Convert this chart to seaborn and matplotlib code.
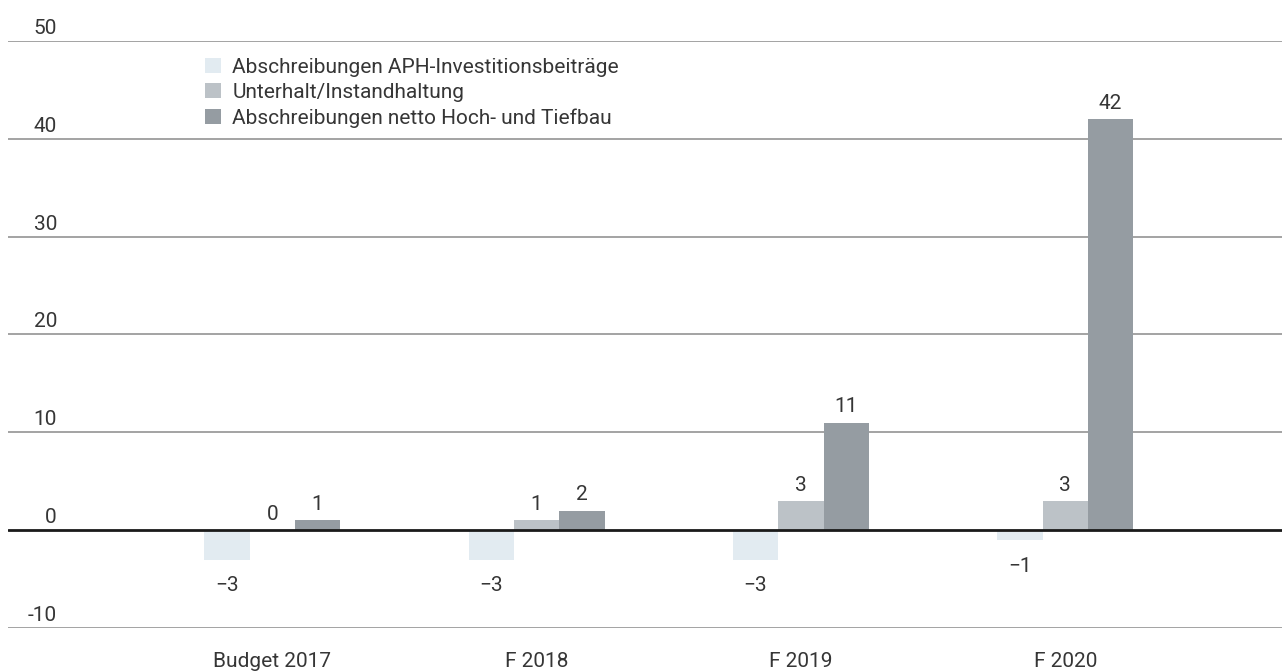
import pandas as pd
import matplotlib
matplotlib.use("Agg")
import matplotlib.pyplot as plt
import matplotlib.transforms as mtransforms
import seaborn as sns

# data
categories = ["Budget 2017", "F 2018", "F 2019", "F 2020"]
series = [
    "Abschreibungen APH-Investitionsbeiträge",
    "Unterhalt/Instandhaltung",
    "Abschreibungen netto Hoch- und Tiefbau",
]
aph = [-3, -3, -3, -1]
unterhalt = [0, 1, 3, 3]
netto = [1, 2, 11, 42]
yticks = [-10, 0, 10, 20, 30, 40, 50]

colors = ["#e2ebf1", "#bcc2c7", "#959ca2"]

df = pd.DataFrame({
    "Kategorie": categories * 3,
    "Serie": [series[0]] * 4 + [series[1]] * 4 + [series[2]] * 4,
    "Wert": aph + unterhalt + netto,
})

sns.set_style("white")
plt.rcParams["font.family"] = ["Roboto", "DejaVu Sans"]
text_color = "#363636"
fs = 15

fig = plt.figure(figsize=(12.82, 6.71), dpi=100)
ax = fig.add_axes([0.0062, 0.064, 0.9938, 0.875])

sns.barplot(data=df, x="Kategorie", y="Wert", hue="Serie", order=categories,
            hue_order=series, palette=colors, width=0.515, saturation=1,
            ax=ax, zorder=2, edgecolor="none", linewidth=0)

ax.set_xlim(-1.0, 3.82)
ax.set_ylim(-10, 50)

# gridlines and zero line
for t in yticks:
    if t == 0:
        continue
    ax.axhline(t, color="#8a8a8a", linewidth=1.1, zorder=1)
ax.axhline(0, color="#1a1a1a", linewidth=2.0, zorder=3)

# y labels sitting above gridlines
trans = mtransforms.blended_transform_factory(ax.transAxes, ax.transData)
for t in yticks:
    ax.text(0.0385, t + 0.72, str(t), transform=trans, ha="right", va="baseline",
            fontsize=fs, color=text_color)
ax.set_yticks([])
ax.set_ylabel("")
ax.set_xlabel("")

ax.tick_params(axis="x", length=0, pad=17, labelsize=fs, labelcolor=text_color)
for s in ax.spines.values():
    s.set_visible(False)

# value labels
for cont, vals in zip(ax.containers, [aph, unterhalt, netto]):
    for bar, v in zip(cont, vals):
        xc = bar.get_x() + bar.get_width() / 2
        txt = str(v).replace("-", "\u2212")
        if v < 0:
            ax.annotate(txt, (xc, v), xytext=(0, -12), textcoords="offset points",
                        ha="center", va="top", fontsize=fs, color=text_color)
        else:
            ax.annotate(txt, (xc, v), xytext=(0, 4.5), textcoords="offset points",
                        ha="center", va="bottom", fontsize=fs, color=text_color)

# legend
handles, labels = ax.get_legend_handles_labels()
ax.legend(handles, labels, loc="upper left", bbox_to_anchor=(0.16, 0.914),
          bbox_transform=fig.transFigure, frameon=False, fontsize=fs,
          handlelength=0.75, handleheight=0.75, handletextpad=0.55,
          labelspacing=0.3, labelcolor=text_color, borderaxespad=0,
          borderpad=0)

fig.savefig("out.png", dpi=100)
